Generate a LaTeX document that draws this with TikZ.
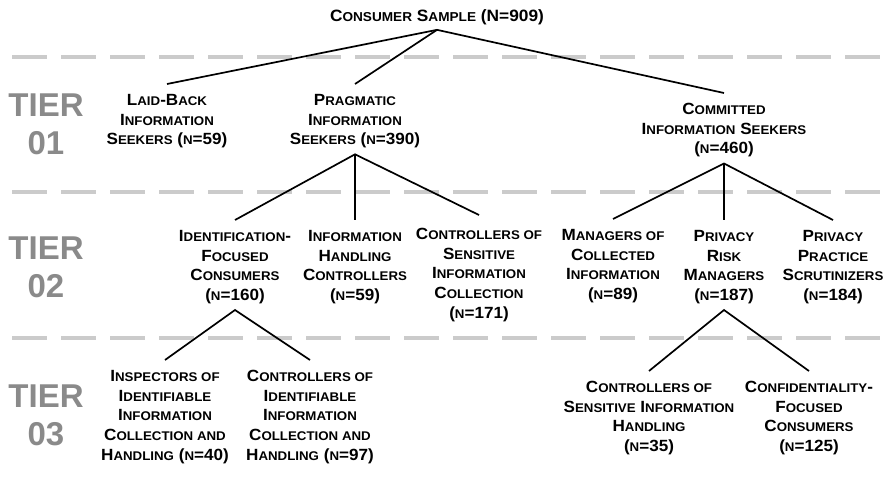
\documentclass[tikz,border=0pt]{standalone}
\usepackage{fontspec}
\setmainfont{Liberation Sans}[FakeStretch=1.055]
\newfontfamily\tierfont{Liberation Sans}
% small-capital letters, set as reduced upper case
\newcommand\smc[1]{{\fontsize{12.6pt}{12pt}\selectfont #1}}
\newcommand\smcroot[1]{{\fontsize{12.9pt}{14pt}\selectfont #1}}
\definecolor{tiergray}{HTML}{8A8A8A}
\definecolor{rulegray}{HTML}{CBCBCB}
\begin{document}
\begin{tikzpicture}[x=1pt,y=-1pt,
  grp/.style={font=\fontsize{16.2pt}{19.7pt}\selectfont\bfseries, align=center,
    inner xsep=0pt, inner ysep=10pt, anchor=north},
  link/.style={line width=1.7pt, black},
  tierline/.style={line width=4pt, rulegray, dash pattern=on 35pt off 14pt},
  tier/.style={font=\tierfont\fontsize{33pt}{38pt}\selectfont\bfseries, text=tiergray,
    align=center, inner sep=0pt}]
\useasboundingbox (0,0) rectangle (886,482);

% tier separators
\draw[tierline] (12,57) -- (886,57);
\draw[tierline] (12,192) -- (886,192);
\draw[tierline] (12,338) -- (886,338);

% tier labels
\node[tier] (t1) at (46,124) {TIER\\01};
\node[tier] (t2) at (46,267) {TIER\\02};
\node[tier] (t3) at (46,415) {TIER\\03};

% root
\node[font=\fontsize{16.4pt}{20pt}\selectfont\bfseries, inner sep=0pt] (root) at (437,17)
  {C\smcroot{ONSUMER} S\smcroot{AMPLE} (N=909)};

% tier 01
\node[grp] (laid) at (167,84) {L\smc{AID}-B\smc{ACK}\\I\smc{NFORMATION}\\S\smc{EEKERS} (\smc{N}=59)};
\node[grp] (prag) at (355,84) {P\smc{RAGMATIC}\\I\smc{NFORMATION}\\S\smc{EEKERS} (\smc{N}=390)};
\node[grp] (comm) at (724,93) {C\smc{OMMITTED}\\I\smc{NFORMATION} S\smc{EEKERS}\\(\smc{N}=460)};

% tier 02
\node[grp] (idf)  at (235,220) {I\smc{DENTIFICATION}-\\F\smc{OCUSED}\\C\smc{ONSUMERS}\\(\smc{N}=160)};
\node[grp] (ihc)  at (355,220) {I\smc{NFORMATION}\\H\smc{ANDLING}\\C\smc{ONTROLLERS}\\(\smc{N}=59)};
\node[grp] (csic) at (479,218) {C\smc{ONTROLLERS OF}\\S\smc{ENSITIVE}\\I\smc{NFORMATION}\\C\smc{OLLECTION}\\(\smc{N}=171)};
\node[grp] (mci)  at (613,219) {M\smc{ANAGERS OF}\\C\smc{OLLECTED}\\I\smc{NFORMATION}\\(\smc{N}=89)};
\node[grp] (prm)  at (724,220) {P\smc{RIVACY}\\R\smc{ISK}\\M\smc{ANAGERS}\\(\smc{N}=187)};
\node[grp] (pps)  at (833,220) {P\smc{RIVACY}\\P\smc{RACTICE}\\S\smc{CRUTINIZERS}\\(\smc{N}=184)};

% tier 03
\node[grp] (iiich) at (165,360) {I\smc{NSPECTORS OF}\\I\smc{DENTIFIABLE}\\I\smc{NFORMATION}\\C\smc{OLLECTION AND}\\H\smc{ANDLING} (\smc{N}=40)};
\node[grp] (ciich) at (310,360) {C\smc{ONTROLLERS OF}\\I\smc{DENTIFIABLE}\\I\smc{NFORMATION}\\C\smc{OLLECTION AND}\\H\smc{ANDLING} (\smc{N}=97)};
\node[grp] (csih)  at (649,371) {C\smc{ONTROLLERS OF}\\S\smc{ENSITIVE} I\smc{NFORMATION}\\H\smc{ANDLING}\\(\smc{N}=35)};
\node[grp] (cfc)   at (809,371) {C\smc{ONFIDENTIALITY}-\\F\smc{OCUSED}\\C\smc{ONSUMERS}\\(\smc{N}=125)};

% connectors
\draw[link] (laid.north) -- ([yshift=-5pt]root.south) -- (comm.north);
\draw[link] ([yshift=-5pt]root.south) -- (prag.north);

\draw[link] (idf.north) -- ([yshift=4pt]prag.south) -- ([yshift=3pt]csic.north);
\draw[link] ([yshift=4pt]prag.south) -- (ihc.north);

\draw[link] (mci.north) -- ([yshift=4pt]comm.south) -- (pps.north);
\draw[link] ([yshift=4pt]comm.south) -- (prm.north);

\draw[link] (iiich.north) -- ([yshift=4pt]idf.south) -- (ciich.north);
\draw[link] (csih.north) -- ([yshift=4pt]prm.south) -- (cfc.north);
\end{tikzpicture}
\end{document}
